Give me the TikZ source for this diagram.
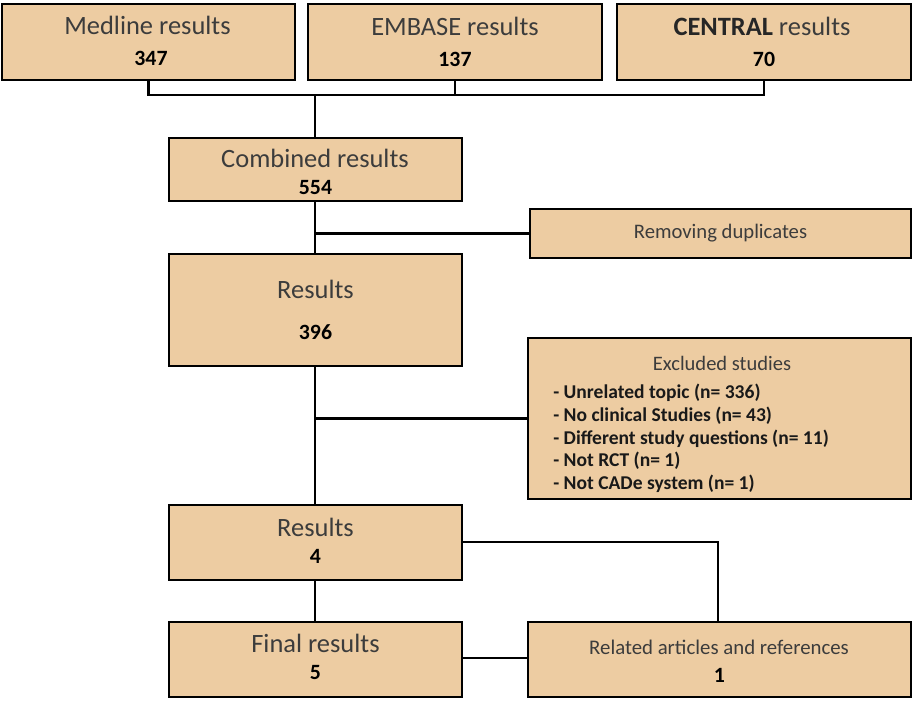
\documentclass[tikz,border=0pt]{standalone}
\usepackage{fontspec}
\setmainfont{Carlito}
\usetikzlibrary{positioning}
\definecolor{tan}{RGB}{237,204,162}
\definecolor{txtgray}{RGB}{60,60,60}
\tikzset{
  box/.style={draw=black, fill=tan, line width=2pt, inner sep=0pt, align=center, font=\fontsize{18.8}{24}\selectfont\color{txtgray}},
  line/.style={line width=2pt},
  num/.style={font=\fontsize{15.5}{18}\selectfont\bfseries\color{black}}
}
\begin{document}
\begin{tikzpicture}[x=0.025cm, y=-0.025cm]
    \useasboundingbox (0,0) rectangle (914,700);

    % Datenbanken
    \node[box, minimum width=293*0.025cm, minimum height=76*0.025cm] (med) at (148.5,42) {};
    \node[box, minimum width=294*0.025cm, minimum height=76*0.025cm] (emb) at (455,42) {};
    \node[box, minimum width=294*0.025cm, minimum height=76*0.025cm] (cen) at (764,42) {};
    \node[box, draw=none, fill=none] (medt) at (147.5,25) {Medline results};
    \node[num] (medn) at (151,58) {347};
    \node[box, draw=none, fill=none] (embt) at (455,26) {EMBASE results};
    \node[num] (embn) at (455,59) {137};
    \node[box, draw=none, fill=none] (cent) at (762,26) {{\bfseries\color{black!85}CENTRAL} results};
    \node[num] (cenn) at (764,59) {70};

    % Zusammenfuehrung
    \coordinate (bar) at (315,95);
    \node[box, minimum width=293*0.025cm, minimum height=63*0.025cm] (comb) at (315.5,169.5) {};
    \node[box, draw=none, fill=none] (combt) at (315,158) {Combined results};
    \node[num] (combn) at (315.5,187) {554};
    \draw[line] (med.south) -- (med.south |- bar) -- (cen.south |- bar) -- (cen.south);
    \draw[line] (emb.south) -- (emb.south |- bar);
    \draw[line] (bar) -- (bar |- comb.north);

    % Duplikate
    \node[box, minimum width=381*0.025cm, minimum height=49*0.025cm,
          font=\fontsize{14.7}{16}\selectfont\color{txtgray}] (dup) at (720.5,233.5) {Removing duplicates};
    \node[box, minimum width=293*0.025cm, minimum height=112*0.025cm] (res) at (315.5,310) {};
    \node[box, draw=none, fill=none] (rest) at (315.5,289) {Results};
    \node[num] (resn) at (315.5,332) {396};
    \draw[line] (comb.south -| bar) -- (res.north -| bar);
    \draw[line] (bar |- dup.west) -- (dup.west);

    % Ausschluss
    \node[box, minimum width=383*0.025cm, minimum height=161*0.025cm] (excl) at (719.5,418.5) {};
    \node[font=\fontsize{14.6}{16}\selectfont\color{txtgray}] (exlbl) at (722,363) {Excluded studies};
    \node[anchor=north west, align=left, inner sep=0pt,
          font=\fontsize{13.9}{16.1}\selectfont\bfseries\color{black!90}] (exlist) at (553,384)
          {- Unrelated topic (n= 336)\\- No clinical Studies (n= 43)\\- Different study questions (n= 11)\\- Not RCT (n= 1)\\- Not CADe system (n= 1)};
    \node[box, minimum width=293*0.025cm, minimum height=75*0.025cm] (res4) at (315.5,542.5) {};
    \node[box, draw=none, fill=none] (res4t) at (315.5,527) {Results};
    \node[num] (res4n) at (315.5,556) {4};
    \draw[line] (res.south -| bar) -- (res4.north -| bar);
    \draw[line] (bar |- excl.west) -- (excl.west);

    % Ergebnis
    \node[box, minimum width=293*0.025cm, minimum height=75*0.025cm] (fin) at (315.5,659.5) {};
    \node[box, draw=none, fill=none] (fint) at (315.5,643) {Final results};
    \node[num] (finn) at (315.5,672) {5};
    \node[box, minimum width=383*0.025cm, minimum height=75*0.025cm] (rel) at (719.5,659.5) {};
    \node[font=\fontsize{14.8}{16}\selectfont\color{txtgray}] (relt) at (719,647) {Related articles and references};
    \node[num] (reln) at (719.5,675) {1};
    \coordinate (turn) at (718,542);
    \draw[line] (res4.east |- turn) -- (turn) -- (turn |- rel.north);
    \draw[line] (res4.south -| bar) -- (fin.north -| bar);
    \draw[line] (fin.east |- 0,658) -- (rel.west |- 0,658);
\end{tikzpicture}
\end{document}
